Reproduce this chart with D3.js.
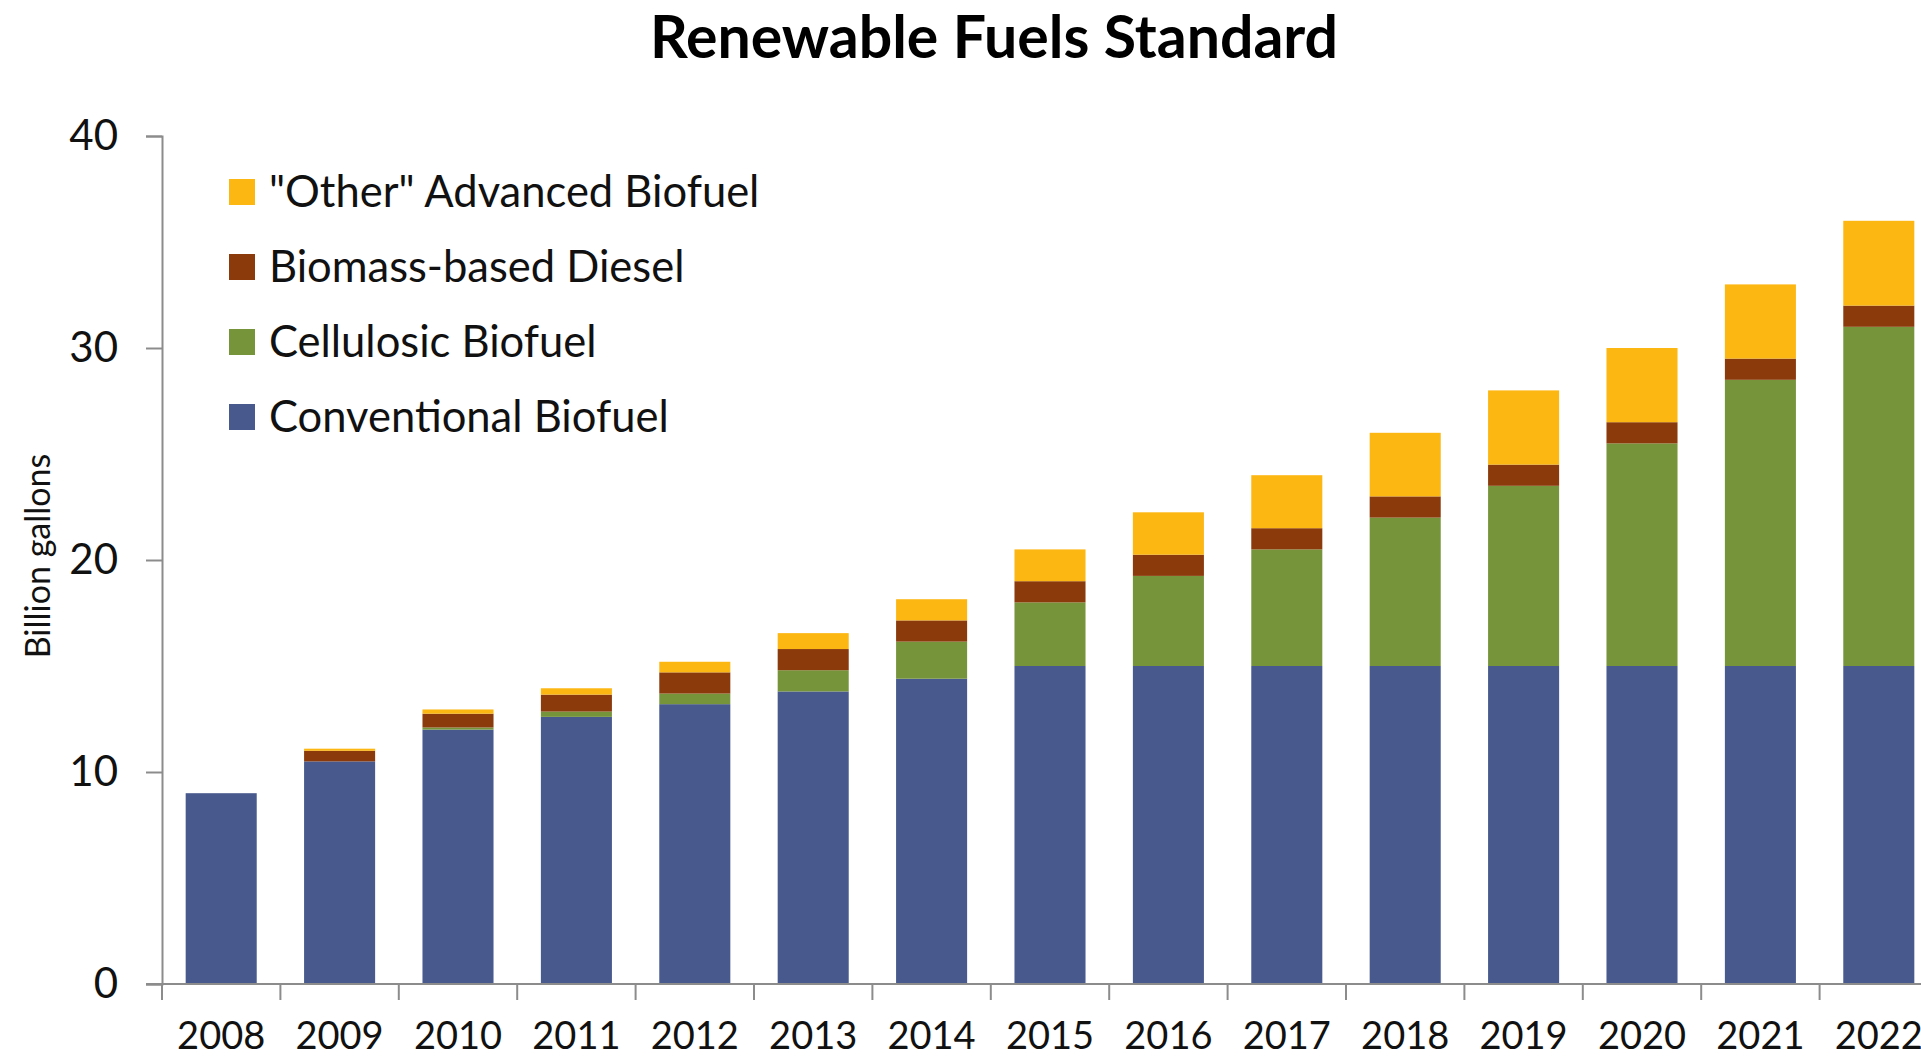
<!DOCTYPE html>
<html>
<head>
<meta charset="utf-8">
<script src="https://cdn.jsdelivr.net/npm/d3@7"></script>
<style>
  html, body { margin: 0; padding: 0; background: #fff; }
  svg { display: block; font-family: Lato, 'Open Sans', sans-serif; }
</style>
</head>
<body>
<svg id="chart" width="1921" height="1056"></svg>
<script>
// RFS volume requirements, billion gallons
const years = ['2008', '2009', '2010', '2011', '2012', '2013', '2014', '2015',
  '2016', '2017', '2018', '2019', '2020', '2021', '2022']
const conventional = [9, 10.5, 12, 12.6, 13.2, 13.8, 14.4, 15, 15, 15, 15, 15, 15, 15, 15]
const cellulosic = [0, 0, 0.1, 0.25, 0.5, 1.0, 1.75, 3.0, 4.25, 5.5, 7.0, 8.5, 10.5, 13.5, 16.0]
const biomassDiesel = [0, 0.5, 0.65, 0.8, 1.0, 1.0, 1.0, 1.0, 1.0, 1.0, 1.0, 1.0, 1.0, 1.0, 1.0]
const otherAdvanced = [0, 0.1, 0.2, 0.3, 0.5, 0.75, 1.0, 1.5, 2.0, 2.5, 3.0, 3.5, 3.5, 3.5, 4.0]

const seriesKeys = ['conventional', 'cellulosic', 'biomassDiesel', 'otherAdvanced']
const seriesNames = ['Conventional Biofuel', 'Cellulosic Biofuel', 'Biomass-based Diesel', '"Other" Advanced Biofuel']
const seriesColors = ['#47598d', '#76953a', '#8b3a0c', '#fdb713']
const yTicks = [0, 10, 20, 30, 40]

const rows = years.map((y, i) => ({
  year: y,
  conventional: conventional[i],
  cellulosic: cellulosic[i],
  biomassDiesel: biomassDiesel[i],
  otherAdvanced: otherAdvanced[i]
}))

const svg = d3.select('#chart')

// plot area (right side runs off the picture, like the original)
const plotLeft = 162
const plotBottom = 984
const plotTop = 136
const step = 118.4

const x = d3.scaleBand()
  .domain(years)
  .range([plotLeft, plotLeft + step * years.length])
  .paddingInner(0.4)
  .paddingOuter(0.2)

const y = d3.scaleLinear().domain([0, 40]).range([plotBottom, plotTop])

const stacked = d3.stack().keys(seriesKeys)(rows)

// bars
svg.append('g')
  .selectAll('g')
  .data(stacked)
  .enter()
  .append('g')
  .attr('fill', (d, i) => seriesColors[i])
  .selectAll('rect')
  .data(d => d)
  .enter()
  .append('rect')
  .attr('x', d => x(d.data.year))
  .attr('width', x.bandwidth())
  .attr('y', d => y(d[1]))
  .attr('height', d => y(d[0]) - y(d[1]))

// y axis
const yAxis = svg.append('g')
  .attr('transform', 'translate(' + plotLeft + ',0)')
  .call(d3.axisLeft(y).tickValues(yTicks).tickSize(16).tickPadding(28))
yAxis.select('.domain').attr('stroke', '#8c8c8c').attr('stroke-width', 2)
yAxis.selectAll('.tick line').attr('stroke', '#8c8c8c').attr('stroke-width', 2)
yAxis.selectAll('.tick text')
  .attr('font-size', 42)
  .attr('fill', '#111')
  .style('font-family', 'Lato, sans-serif')

// x axis: ticks sit between categories
const xAxis = svg.append('g').attr('transform', 'translate(0,' + plotBottom + ')')
xAxis.append('line')
  .attr('x1', plotLeft - 16)
  .attr('x2', 1921)
  .attr('stroke', '#8c8c8c')
  .attr('stroke-width', 2)
xAxis.selectAll('line.tick')
  .data(years)
  .enter()
  .append('line')
  .attr('class', 'tick')
  .attr('x1', d => x(d) - x.step() * x.paddingInner() / 2)
  .attr('x2', d => x(d) - x.step() * x.paddingInner() / 2)
  .attr('y1', 0)
  .attr('y2', 16)
  .attr('stroke', '#8c8c8c')
  .attr('stroke-width', 2)
xAxis.selectAll('text')
  .data(years)
  .enter()
  .append('text')
  .attr('x', d => x(d) + x.bandwidth() / 2)
  .attr('y', 65)
  .attr('text-anchor', 'middle')
  .attr('font-size', 38)
  .attr('fill', '#111')
  .text(d => d)

// axis title
svg.append('text')
  .attr('transform', 'translate(50,556) rotate(-90)')
  .attr('text-anchor', 'middle')
  .attr('font-size', 34)
  .attr('fill', '#111')
  .text('Billion gallons')

// title
svg.append('text')
  .attr('x', 994)
  .attr('y', 58)
  .attr('text-anchor', 'middle')
  .attr('font-size', 59)
  .attr('font-weight', 'bold')
  .attr('fill', '#000')
  .text('Renewable Fuels Standard')

// legend, top entry first
const legendOrder = [3, 2, 1, 0]
const legend = svg.append('g')
  .selectAll('g')
  .data(legendOrder)
  .enter()
  .append('g')
  .attr('transform', (d, i) => 'translate(229,' + (192 + i * 75) + ')')
legend.append('rect')
  .attr('y', -13)
  .attr('width', 26)
  .attr('height', 26)
  .attr('fill', d => seriesColors[d])
legend.append('text')
  .attr('x', 40)
  .attr('dy', '0.34em')
  .attr('font-size', 43.5)
  .attr('fill', '#111')
  .text(d => seriesNames[d])
</script>
</body>
</html>
